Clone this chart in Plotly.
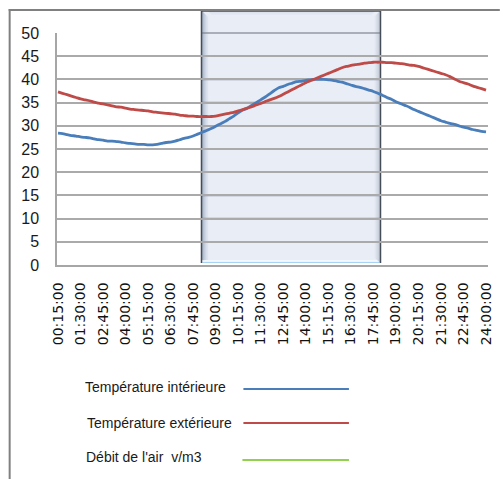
import plotly.graph_objects as go

# Quarter-hour time stamps from 00:15:00 to 24:00:00
times = [f"{(15 * k) // 60:02d}:{(15 * k) % 60:02d}:00" for k in range(1, 97)]
tick_labels = times[::5]
y_ticks = list(range(0, 51, 5))

temp_interieure = [
    28.4, 28.3, 28.1, 27.9, 27.8, 27.6, 27.5, 27.4, 27.2, 27.0,
    26.9, 26.7, 26.7, 26.6, 26.5, 26.3, 26.2, 26.1, 26.0, 26.0,
    25.9, 25.9, 26.0, 26.2, 26.4, 26.5, 26.7, 27.0, 27.3, 27.5,
    27.8, 28.2, 28.6, 29.0, 29.4, 29.9, 30.4, 30.9, 31.5, 32.1,
    32.8, 33.4, 33.8, 34.4, 35.0, 35.6, 36.2, 36.9, 37.6, 38.2,
    38.5, 38.9, 39.2, 39.5, 39.6, 39.8, 39.9, 40.0, 40.0, 40.0,
    39.9, 39.8, 39.6, 39.4, 39.1, 38.8, 38.5, 38.3, 38.0, 37.7,
    37.4, 37.0, 36.6, 36.1, 35.7, 35.2, 34.8, 34.4, 34.0, 33.5,
    33.1, 32.7, 32.3, 31.9, 31.5, 31.1, 30.8, 30.5, 30.3, 30.0,
    29.7, 29.5, 29.2, 29.0, 28.8, 28.7,
]

temp_exterieure = [
    37.3, 37.0, 36.7, 36.4, 36.1, 35.8, 35.6, 35.4, 35.1, 34.9,
    34.7, 34.5, 34.3, 34.1, 34.0, 33.8, 33.6, 33.5, 33.4, 33.3,
    33.2, 33.0, 32.9, 32.8, 32.7, 32.6, 32.5, 32.3, 32.2, 32.1,
    32.1, 32.0, 32.0, 32.0, 32.0, 32.1, 32.3, 32.5, 32.7, 32.9,
    33.2, 33.5, 33.8, 34.1, 34.5, 34.8, 35.2, 35.6, 35.9, 36.3,
    36.8, 37.3, 37.8, 38.3, 38.8, 39.3, 39.7, 40.1, 40.5, 40.9,
    41.3, 41.7, 42.1, 42.5, 42.8, 43.0, 43.2, 43.3, 43.5, 43.6,
    43.7, 43.7, 43.7, 43.6, 43.6, 43.5, 43.4, 43.3, 43.1, 43.0,
    42.8, 42.5, 42.2, 41.9, 41.6, 41.3, 41.0, 40.6, 40.1, 39.6,
    39.3, 39.0, 38.6, 38.3, 38.0, 37.7,
]

series_names = ["Température intérieure", "Température extérieure", "Débit de l'air  v/m3"]
series_colors = ["#4a7ebb", "#be4b48", "#92d050"]

W, H = 504, 479
PL, PR, PT, PB = 57, 494, 33, 265  # plot area in pixels
Y_MAX = 50


def px(x):
    return (x - PL) / (PR - PL)


def py(y):
    return (PB - y) / (PB - PT)


fig = go.Figure()
for name, vals, col in zip(series_names[:2], [temp_interieure, temp_exterieure], series_colors[:2]):
    fig.add_trace(go.Scatter(
        x=times, y=vals, mode="lines", name=name,
        line=dict(color=col, width=2.8, shape="spline", smoothing=0.8, simplify=False),
        showlegend=False,
    ))

shapes = []

# outer chart frame
shapes.append(dict(type="line", xref="paper", yref="paper",
                   x0=px(8), x1=px(506), y0=py(10), y1=py(10),
                   line=dict(color="#808080", width=2), layer="above"))
shapes.append(dict(type="line", xref="paper", yref="paper",
                   x0=px(9), x1=px(9), y0=py(9), y1=py(482),
                   line=dict(color="#808080", width=2), layer="above"))


def rect(x0, x1, y0, y1, color):
    shapes.append(dict(type="rect", xref="paper", yref="paper",
                       x0=px(x0), x1=px(x1), y0=py(y1), y1=py(y0),
                       fillcolor=color, line=dict(width=0), layer="below"))


# translucent bevelled rectangle over the daytime period
BX0, BX1, BY0, BY1 = 203.5, 385.0, 11.0, 263.0
rect(BX0, BX1, BY0, BY1, "#e8edf6")
for i, a in enumerate([0.50, 0.38, 0.28, 0.20, 0.13, 0.08, 0.04]):
    rect(BX0 + i, BX0 + i + 1, BY0 + i, BY1 - 3, f"rgba(70,92,128,{a})")
for i, a in enumerate([0.32, 0.25, 0.19, 0.13, 0.08, 0.04]):
    rect(BX1 - i - 1, BX1 - i, BY0 + i, BY1 - i, f"rgba(90,104,130,{a})")
for i, a in enumerate([0.14, 0.09, 0.05, 0.03]):
    rect(BX0 + i + 7, BX1 - i - 6, BY0 + i, BY0 + i + 1, f"rgba(90,110,150,{a})")
for i, c in enumerate(["rgba(150,205,245,0.8)", "rgba(235,246,253,0.85)", "rgba(245,250,254,0.8)"]):
    rect(BX0 + i + 1, BX1 - i - 1, BY1 - i - 1, BY1 - i, c)

# grid lines seen through the translucent rectangle
for v in y_ticks[1:]:
    shapes.append(dict(type="line", xref="paper", yref="paper",
                       x0=px(BX0), x1=px(BX1), y0=v / Y_MAX, y1=v / Y_MAX,
                       line=dict(color="rgba(120,126,138,0.75)", width=1.5), layer="below"))

for (x0, y0, x1, y1) in [(BX0, BY0, BX1, BY0), (BX0, BY0, BX0, BY1), (BX1, BY0, BX1, BY1)]:
    shapes.append(dict(type="line", xref="paper", yref="paper",
                       x0=px(x0), x1=px(x1), y0=py(y0), y1=py(y1),
                       line=dict(color="#454d58", width=1.5), layer="below"))

# legend rows: label on the left, line sample on the right
legend_rows = [(83, 387, 246, 353, 389), (85, 423, 246, 353, 423), (84, 457, 245, 353, 460)]
annotations = []
for (tx, ty, lx0, lx1, ly), name, col in zip(legend_rows, series_names, series_colors):
    annotations.append(dict(xref="paper", yref="paper", x=px(tx), y=py(ty),
                            xanchor="left", yanchor="middle", showarrow=False,
                            text=name, font=dict(family="Liberation Sans, Arial", size=14, color="#1a1a1a")))
    shapes.append(dict(type="line", xref="paper", yref="paper",
                       x0=px(lx0), x1=px(lx1), y0=py(ly), y1=py(ly),
                       line=dict(color=col, width=2), layer="above"))

n = len(times)
fig.update_layout(
    width=W, height=H,
    margin=dict(l=PL, r=W - PR, t=PT, b=H - PB),
    paper_bgcolor="white", plot_bgcolor="white",
    shapes=shapes, annotations=annotations,
    showlegend=False,
    xaxis=dict(
        type="category", range=[-0.22, n - 1 + 0.44],
        tickmode="array", tickvals=tick_labels, ticktext=tick_labels,
        tickangle=-90, showgrid=False, showline=True, linecolor="#a6a6a6", linewidth=1.5,
        ticks="", ticklabelstandoff=10,
        tickfont=dict(family="DejaVu Sans", size=14, color="#111111"),
    ),
    yaxis=dict(
        range=[0, Y_MAX], tickmode="array", tickvals=y_ticks,
        showgrid=True, gridcolor="#aaaaaa", gridwidth=1.5,
        showline=True, linecolor="#a6a6a6", linewidth=1.5,
        zeroline=False, ticks="", ticklabelstandoff=13,
        tickfont=dict(family="Liberation Sans, Arial", size=16, color="#1a1a1a"),
    ),
)

fig.write_html("out.html")
